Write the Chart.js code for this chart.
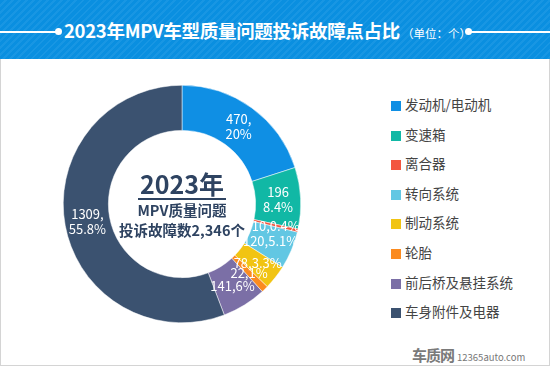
<!DOCTYPE html>
<html>
<head>
<meta charset="utf-8">
<script src="https://cdn.jsdelivr.net/npm/chart.js@4.4.0/dist/chart.umd.min.js"></script>
<style>
  html, body { margin: 0; padding: 0; }
  body { width: 550px; height: 368px; position: relative; overflow: hidden; background: #fff;
         font-family: "Noto Sans CJK SC", "Noto Sans", sans-serif; }
  #frame { position: absolute; left: 0; top: 0; width: 548px; height: 365px;
           border: 1px solid #d4d4d4; border-top: none; }
  #header { position: absolute; left: 0; top: 0; width: 550px; height: 59px;
            background: repeating-linear-gradient(135deg, #0a8fe0 0px, #0a8fe0 3px, #1896e3 3px, #1896e3 5px); }
  #header .line { position: absolute; top: 31px; height: 2px; background: #fff; }
  #header .dot { position: absolute; top: 28px; width: 7px; height: 7px; border-radius: 50%; background: #fff; }
  #title { position: absolute; left: 64px; top: 17px; color: #fff; font-weight: bold; font-size: 18.5px;
           white-space: nowrap; letter-spacing: -0.3px; }
  #title small { font-size: 11.5px; font-weight: normal; margin-left: 2px; letter-spacing: 0; }
  #chartBox { position: absolute; left: 57px; top: 79px; width: 250px; height: 250px; }
  #center { position: absolute; left: 102px; top: 168px; width: 160px; text-align: center; color: #2e4361; font-weight: bold; }
  #center .year { font-size: 25px; line-height: 30px; display: inline-block; border-bottom: 2px solid #2e4361; padding: 0 2px; }
  #center .sub { font-size: 14.5px; line-height: 20px; }
  #legend { position: absolute; left: 391px; top: 94px; }
  #legend div { height: 29.6px; font-size: 13.5px; color: #444; white-space: nowrap; }
  #legend span { display: inline-block; width: 10px; height: 10px; margin-right: 4px; vertical-align: -1px; }
  #mark { position: absolute; left: 412px; top: 342px; color: #888; white-space: nowrap; }
  #mark b { font-size: 15px; letter-spacing: -1px; color: #7a7a7a; }
  #mark i { font-style: normal; font-size: 9.5px; margin-left: 3px; color: #777; }
</style>
</head>
<body>
<div id="frame"></div>
<div id="header">
  <div class="line" style="left:0;width:57px"></div>
  <div class="dot" style="left:55px"></div>
  <div class="dot" style="left:465px"></div>
  <div class="line" style="left:468px;width:82px"></div>
  <div id="title">2023年MPV车型质量问题投诉故障点占比<small>（单位：个）</small></div>
</div>
<div id="chartBox"><canvas id="pie" width="250" height="250"></canvas></div>
<div id="center">
  <div class="year">2023年</div>
  <div class="sub">MPV质量问题</div>
  <div class="sub">投诉故障数2,346个</div>
</div>
<div id="legend"></div>
<div id="mark"><b>车质网</b><i>12365auto.com</i></div>
<script>
// 故障点分类
var categories = ['发动机/电动机', '变速箱', '离合器', '转向系统', '制动系统', '轮胎', '前后桥及悬挂系统', '车身附件及电器'];
var counts = [470, 196, 10, 120, 78, 22, 141, 1309];
var sliceLabels = ['470,\n20%', '196\n8.4%', '10,0.4%', '120,5.1%', '78,3.3%', '22,1%', '141,6%', '1309,\n55.8%'];
var colors = ['#0f8fe4', '#11b8a5', '#f35640', '#62c7e3', '#f1c413', '#fb8b1f', '#7b6fa6', '#3b5270'];

// html legend
var lg = document.getElementById('legend');
categories.forEach(function(c, i) {
    var row = document.createElement('div');
    row.innerHTML = '<span style="background:' + colors[i] + '"></span>' + c;
    lg.appendChild(row);
});

var sliceText = {
    id: 'sliceText',
    afterDatasetsDraw: function(chart) {
        var ctx = chart.ctx;
        var meta = chart.getDatasetMeta(0);
        ctx.save();
        ctx.fillStyle = '#fff';
        ctx.font = '13px "Noto Sans CJK SC", sans-serif';
        ctx.textAlign = 'center';
        ctx.textBaseline = 'middle';
        meta.data.forEach(function(arc, i) {
            var p = arc.tooltipPosition();
            var lines = sliceLabels[i].split('\n');
            lines.forEach(function(t, k) {
                ctx.fillText(t, p.x, p.y + (k - (lines.length - 1) / 2) * 15);
            });
        });
        ctx.restore();
    }
};

new Chart(document.getElementById('pie'), {
    type: 'doughnut',
    data: {
        labels: categories,
        datasets: [{
            data: counts,
            backgroundColor: colors,
            borderColor: '#fff',
            borderWidth: 0.5
        }]
    },
    options: {
        responsive: false,
        animation: false,
        cutout: '62%',
        layout: { padding: 6 },
        plugins: {
            legend: { display: false },
            tooltip: { enabled: false }
        }
    },
    plugins: [sliceText]
});
</script>
</body>
</html>
